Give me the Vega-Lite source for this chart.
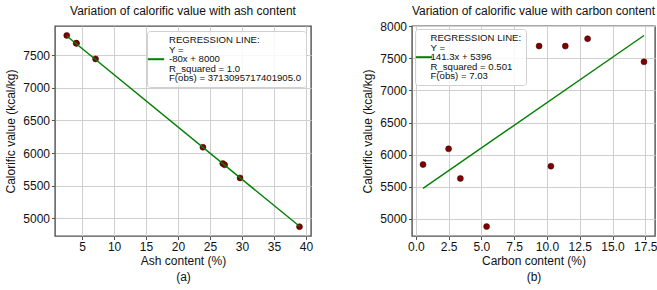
{
  "$schema": "https://vega.github.io/schema/vega-lite/v6.json",
  "background": "white",
  "padding": {"left": 4, "top": 4, "right": 0, "bottom": 0},
  "spacing": 47,
  "config": {
    "font": "Liberation Sans",
    "view": {"stroke": "#505050", "strokeWidth": 1.4},
    "axis": {
      "grid": true, "gridColor": "#cfcfcf", "gridWidth": 1, "domain": false,
      "tickColor": "#505050", "tickSize": 3.5, "labelPadding": 2, "tickCount": 20,
      "labelOverlap": false, "labelFlush": false,
      "labelFontSize": 12, "labelColor": "#111111", "titleFontSize": 12,
      "titleFontWeight": "normal", "titleColor": "#111111"
    },
    "axisX": {"titlePadding": 2.5, "titleLineHeight": 16.7},
    "axisY": {"titlePadding": 5},
    "title": {"fontSize": 12, "fontWeight": "normal", "color": "#111111"},
    "legend": {
      "offset": 5, "padding": 4, "fillColor": "rgba(255,255,255,0.85)",
      "strokeColor": "#d0d0d0", "cornerRadius": 3, "symbolType": "M-2.04,4.8H2.04",
      "symbolStrokeWidth": 2, "symbolSize": 64, "labelFontSize": 9.6,
      "labelLimit": 300, "labelColor": "#111111", "labelOffset": 8
    }
  },
  "resolve": {"scale": {"color": "independent"}, "legend": {"color": "independent"}},
  "hconcat": [
    {
      "title": {"text": "Variation of calorific value with ash content", "offset": 8},
      "width": 256,
      "height": 210,
      "layer": [
        {
          "data": {"values": [
            {"ash": 2.6, "cv": 7800},
            {"ash": 4.1, "cv": 7680},
            {"ash": 4.1, "cv": 7680},
            {"ash": 7.1, "cv": 7440},
            {"ash": 23.9, "cv": 6090},
            {"ash": 27.0, "cv": 5840},
            {"ash": 27.3, "cv": 5820},
            {"ash": 29.7, "cv": 5620},
            {"ash": 39.0, "cv": 4875}
          ]},
          "mark": {"type": "point", "filled": true, "size": 36, "opacity": 1, "color": "#800000", "stroke": "#3a0000", "strokeWidth": 0.5},
          "encoding": {
            "x": {"field": "ash", "type": "quantitative", "scale": {"domain": [0.76, 40.8], "nice": false, "zero": false},
                  "axis": {"values": [5, 10, 15, 20, 25, 30, 35, 40], "format": "d", "tickCount": 20, "title": ["Ash content (%)", "(a)"]}},
            "y": {"field": "cv", "type": "quantitative", "scale": {"domain": [4732, 7944], "nice": false, "zero": false},
                  "axis": {"values": [5000, 5500, 6000, 6500, 7000, 7500], "format": "d", "tickCount": 20, "title": "Calorific value (kcal/kg)"}}
          }
        },
        {
          "data": {"values": [
            {"ash": 2.6, "cv": 7792, "series": "reg"},
            {"ash": 39.0, "cv": 4880, "series": "reg"}
          ]},
          "mark": {"type": "line", "strokeWidth": 1.4},
          "encoding": {
            "x": {"field": "ash", "type": "quantitative"},
            "y": {"field": "cv", "type": "quantitative"},
            "color": {"field": "series", "type": "nominal", "scale": {"range": ["#008000"]},
              "legend": {"orient": "top-right", "title": null, "offset": 5,
                "encoding": {"labels": {"lineHeight": {"value": 9.6}}},
                "labelExpr": "['REGRESSION LINE:', '\u00a0\u00a0\u00a0Y =', '\u00a0\u00a0\u00a0-80x + 8000', '\u00a0\u00a0\u00a0R_squared = 1.0', '\u00a0\u00a0\u00a0F(obs) = 3713095717401905.0']"}}
          }
        }
      ]
    },
    {
      "title": {"text": "Variation of calorific value with carbon content", "offset": 2},
      "width": 243,
      "height": 210,
      "layer": [
        {
          "data": {"values": [
            {"carbon": 0.55, "cv": 5845},
            {"carbon": 2.5, "cv": 6090},
            {"carbon": 3.4, "cv": 5630},
            {"carbon": 5.4, "cv": 4880},
            {"carbon": 9.4, "cv": 7690},
            {"carbon": 10.3, "cv": 5820},
            {"carbon": 11.4, "cv": 7690},
            {"carbon": 13.1, "cv": 7805},
            {"carbon": 17.4, "cv": 7445}
          ]},
          "mark": {"type": "point", "filled": true, "size": 36, "opacity": 1, "color": "#800000", "stroke": "#3a0000", "strokeWidth": 0.5},
          "encoding": {
            "x": {"field": "carbon", "type": "quantitative", "scale": {"domain": [-0.29, 18.24], "nice": false, "zero": false},
                  "axis": {"values": [0, 2.5, 5, 7.5, 10, 12.5, 15, 17.5], "format": ".1f", "tickCount": 20, "title": ["Carbon content (%)", "(b)"]}},
            "y": {"field": "cv", "type": "quantitative", "scale": {"domain": [4733, 8003], "nice": false, "zero": false},
                  "axis": {"values": [5000, 5500, 6000, 6500, 7000, 7500, 8000], "format": "d", "tickCount": 20, "title": "Calorific value (kcal/kg)"}}
          }
        },
        {
          "data": {"values": [
            {"carbon": 0.55, "cv": 5474, "series": "reg2"},
            {"carbon": 17.4, "cv": 7855, "series": "reg2"}
          ]},
          "mark": {"type": "line", "strokeWidth": 1.4},
          "encoding": {
            "x": {"field": "carbon", "type": "quantitative"},
            "y": {"field": "cv", "type": "quantitative"},
            "color": {"field": "series", "type": "nominal", "scale": {"range": ["#008000"]},
              "legend": {"orient": "top-left", "title": null, "offset": 3, "labelOffset": 1.5,
                "encoding": {"labels": {"lineHeight": {"value": 9.6}}},
                "labelExpr": "['REGRESSION LINE:', '\u00a0\u00a0\u00a0Y =', '\u00a0\u00a0\u00a0141.3x + 5396', '\u00a0\u00a0\u00a0R_squared = 0.501', '\u00a0\u00a0\u00a0F(obs) = 7.03']"}}
          }
        }
      ]
    }
  ]
}
